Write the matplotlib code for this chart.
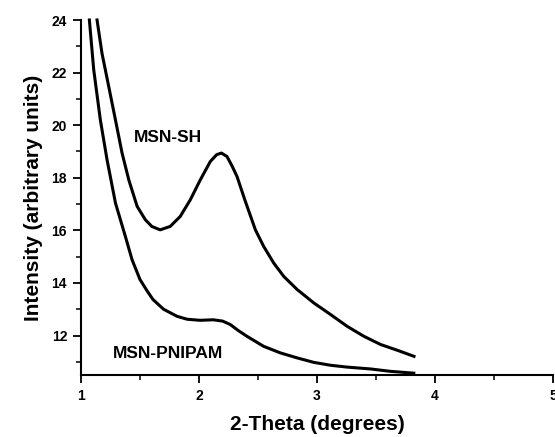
import matplotlib
matplotlib.use("Agg")
import matplotlib.pyplot as plt
from matplotlib.ticker import MultipleLocator

plt.rcParams['font.family'] = ['Liberation Sans', 'DejaVu Sans']
plt.rcParams['font.weight'] = 'bold'

# values
sh_theta = [1.136, 1.178, 1.235, 1.292, 1.348, 1.405, 1.476, 1.546, 1.60, 1.671, 1.756,
            1.841, 1.926, 2.011, 2.096, 2.15, 2.19, 2.237, 2.28, 2.322, 2.393, 2.478,
            2.548, 2.633, 2.718, 2.832, 2.973, 3.115, 3.256, 3.398, 3.539, 3.681, 3.822]
sh_int = [24.0, 22.73, 21.47, 20.2, 18.94, 17.92, 16.91, 16.40, 16.15, 16.02, 16.15,
          16.53, 17.16, 17.92, 18.62, 18.88, 18.94, 18.81, 18.45, 18.05, 17.10, 16.02,
          15.39, 14.76, 14.25, 13.75, 13.24, 12.80, 12.35, 11.97, 11.66, 11.44, 11.21]

pn_theta = [1.071, 1.108, 1.164, 1.221, 1.292, 1.376, 1.433, 1.50, 1.56, 1.61, 1.70,
            1.815, 1.90, 2.01, 2.12, 2.20, 2.265, 2.33, 2.407, 2.548, 2.690, 2.832,
            2.973, 3.115, 3.256, 3.454, 3.62, 3.82]
pn_int = [24.0, 22.1, 20.2, 18.68, 17.04, 15.77, 14.88, 14.13, 13.7, 13.37, 13.0,
          12.73, 12.62, 12.58, 12.6, 12.55, 12.42, 12.2, 11.97, 11.59, 11.34, 11.15,
          10.98, 10.87, 10.80, 10.73, 10.64, 10.57]

fig = plt.figure(figsize=(5.55, 4.37), dpi=100)
ax = fig.add_axes([81 / 555, 1 - 375 / 437, (553 - 81) / 555, (375 - 20) / 437])

ax.plot(sh_theta, sh_int, color='black', lw=2.2, solid_joinstyle='round', clip_on=False)
ax.plot(pn_theta, pn_int, color='black', lw=2.2, solid_joinstyle='round', clip_on=False)

ax.text(1.74, 19.55, "MSN-SH", fontsize=12.5, fontweight='bold', ha='center', va='center')
ax.text(1.74, 11.3, "MSN-PNIPAM", fontsize=12.5, fontweight='bold', ha='center', va='center')

ax.set_xlim(1, 5)
ax.set_ylim(10.5, 24)
ax.xaxis.set_major_locator(MultipleLocator(1))
ax.xaxis.set_minor_locator(MultipleLocator(0.5))
ax.yaxis.set_minor_locator(MultipleLocator(1))
ax.set_yticks(range(12, 25, 2))

ax.spines['top'].set_visible(False)
ax.spines['right'].set_visible(False)
ax.spines['left'].set_linewidth(1.5)
ax.spines['bottom'].set_linewidth(1.5)
ax.tick_params(which='major', direction='out', length=6, width=1.3, labelsize=10, pad=4)
ax.tick_params(which='minor', direction='out', length=3.5, width=1.1)
for lab in ax.get_xticklabels() + ax.get_yticklabels():
    lab.set_fontweight('bold')

ax.set_xlabel("2-Theta (degrees)", fontsize=15, fontweight='bold', labelpad=9)
ax.set_ylabel("Intensity (arbitrary units)", fontsize=15, fontweight='bold', labelpad=6)

fig.savefig("out.png", dpi=100)
